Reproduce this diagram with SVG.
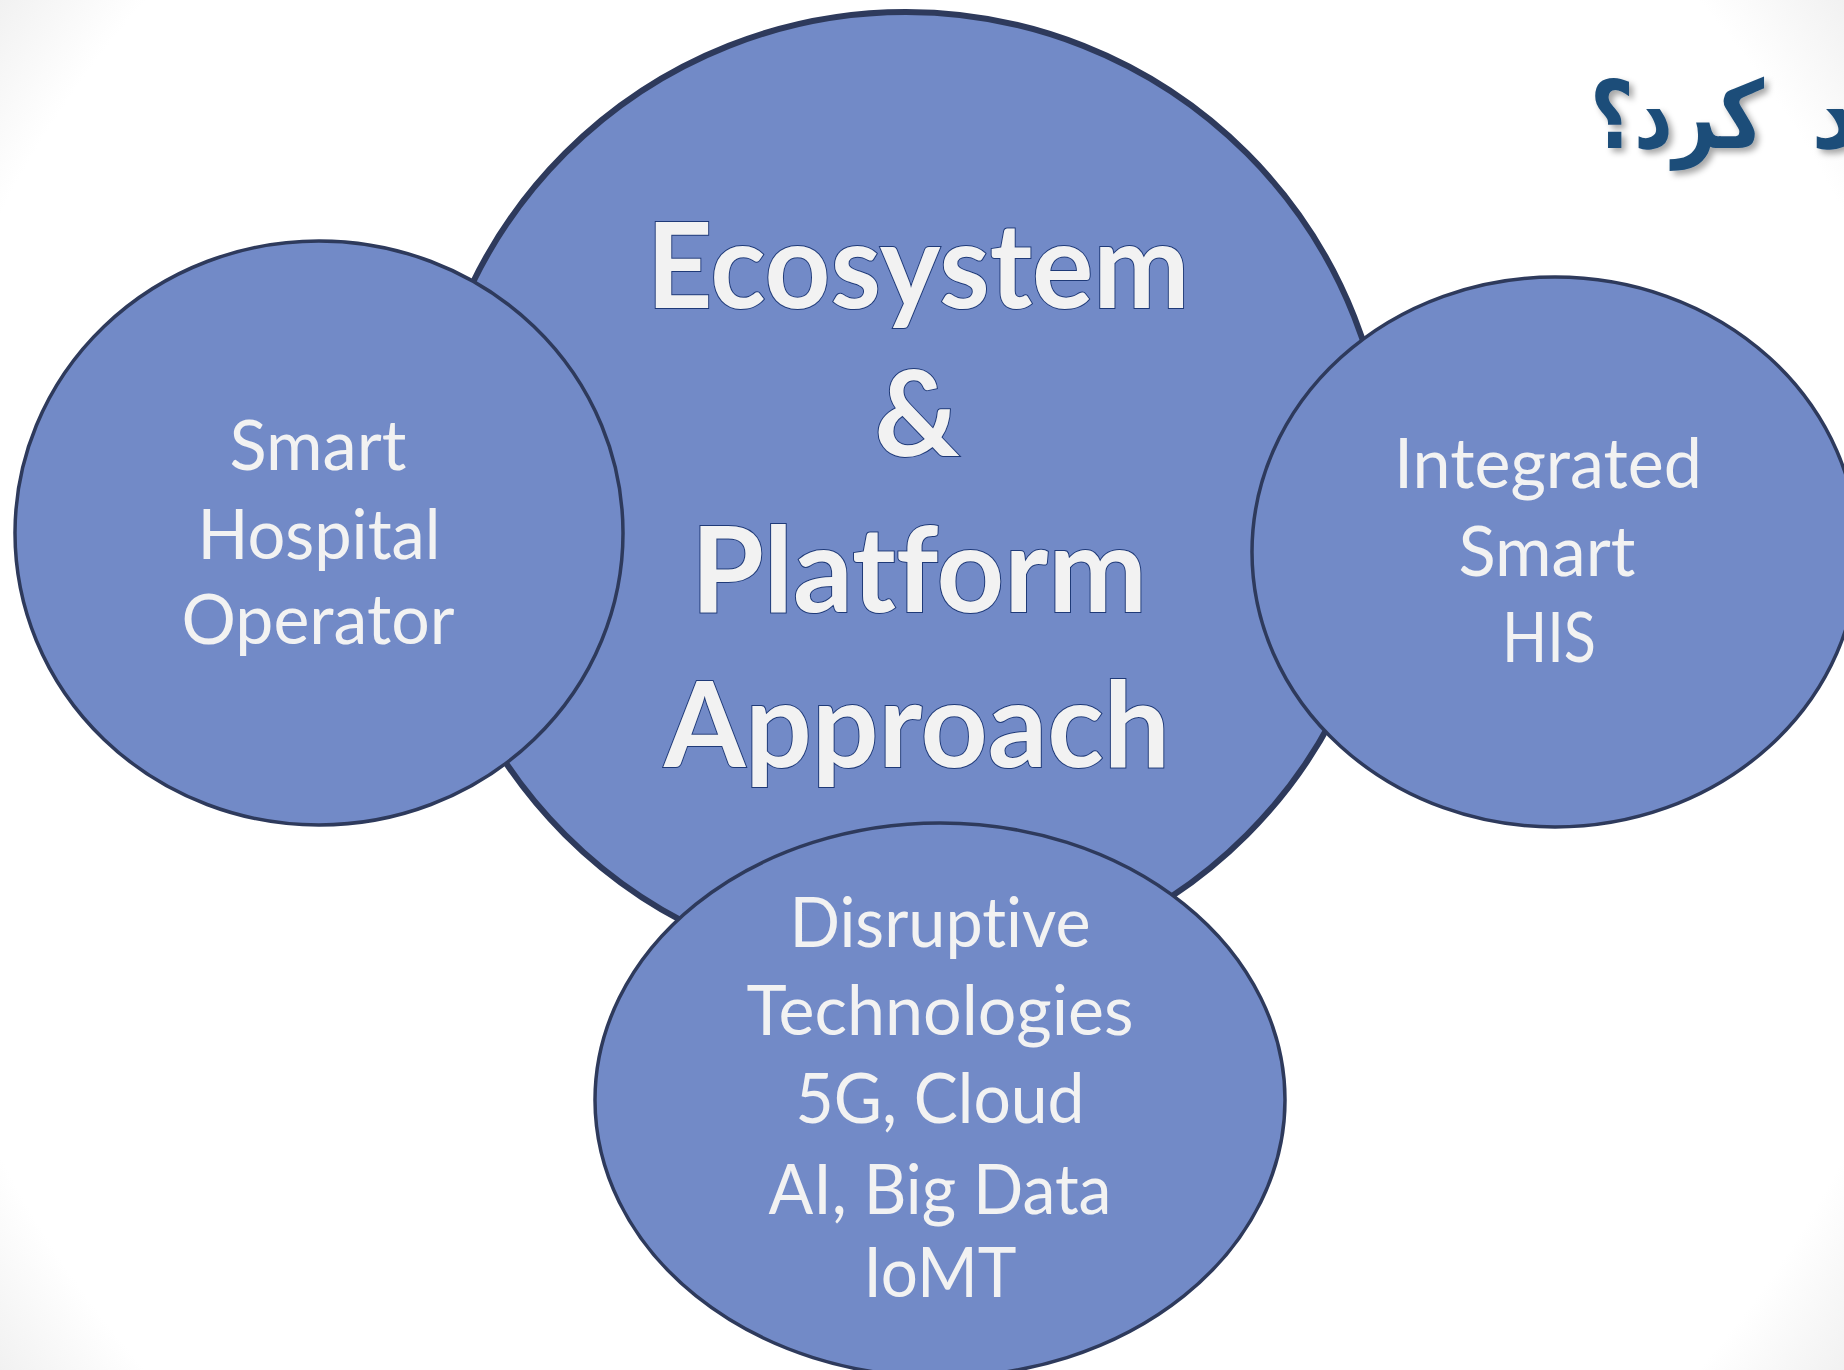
<svg xmlns="http://www.w3.org/2000/svg" width="1844" height="1370" viewBox="0 0 1844 1370">
<defs>
  <radialGradient id="bg" gradientUnits="userSpaceOnUse" cx="922" cy="685" r="1150">
    <stop offset="0.9" stop-color="#ffffff"/>
    <stop offset="1" stop-color="#f1f1f1"/>
  </radialGradient>
  <filter id="shadow" x="-20%" y="-20%" width="140%" height="140%">
    <feDropShadow dx="4" dy="4" stdDeviation="3" flood-color="#000000" flood-opacity="0.35"/>
  </filter>
</defs>
<style>
  .bubble { fill: #728AC7; stroke: #2E3A5C; stroke-width: 3.5; }
  .big { fill: #728AC7; stroke: #2E3A5C; stroke-width: 6; }
  .lbl { font-family: Lato, "Open Sans", "Liberation Sans", sans-serif; font-size: 70px; fill: #F2F2F2; text-anchor: middle; font-variant-ligatures: none; }
  .head { font-family: Lato, "Open Sans", "Liberation Sans", sans-serif; font-weight: bold; font-size: 118px; fill: #F2F2F2; stroke: #1F3A78; stroke-width: 2; text-anchor: middle; paint-order: stroke; font-variant-ligatures: none; }
  .title { font-family: "DejaVu Sans", "Noto Sans", sans-serif; font-weight: bold; font-size: 94px; fill: #1F4E79; }
</style>
<rect x="0" y="0" width="1844" height="1370" fill="url(#bg)"/>

<g id="title" filter="url(#shadow)">
  <text class="title" x="1590" y="148" textLength="174" lengthAdjust="spacingAndGlyphs">کرد؟</text>
  <text class="title" x="1811" y="148">د</text>
</g>

<g id="connectors"/>

<g id="node-ecosystem">
  <circle class="big" cx="906" cy="494" r="482"/>
  <text class="head" x="918" y="308" textLength="543" lengthAdjust="spacingAndGlyphs">Ecosystem</text>
  <text class="head" x="917" y="456">&amp;</text>
  <text class="head" x="919" y="612" textLength="456" lengthAdjust="spacingAndGlyphs">Platform</text>
  <text class="head" x="917" y="767" textLength="506" lengthAdjust="spacingAndGlyphs">Approach</text>
</g>

<g id="node-smart-hospital">
  <ellipse class="bubble" cx="319" cy="533" rx="304" ry="292"/>
  <text class="lbl" x="318" y="470" textLength="177" lengthAdjust="spacingAndGlyphs">Smart</text>
  <text class="lbl" x="319" y="559" textLength="243" lengthAdjust="spacingAndGlyphs">Hospital</text>
  <text class="lbl" x="318" y="644" textLength="273" lengthAdjust="spacingAndGlyphs">Operator</text>
</g>

<g id="node-integrated-his">
  <ellipse class="bubble" cx="1555" cy="552" rx="303" ry="275"/>
  <text class="lbl" x="1548" y="488" textLength="308" lengthAdjust="spacingAndGlyphs">Integrated</text>
  <text class="lbl" x="1547" y="576" textLength="177" lengthAdjust="spacingAndGlyphs">Smart</text>
  <text class="lbl" x="1549" y="662" textLength="94" lengthAdjust="spacingAndGlyphs">HIS</text>
</g>

<g id="node-disruptive">
  <ellipse class="bubble" cx="940" cy="1100" rx="345" ry="277"/>
  <text class="lbl" x="940" y="947" textLength="301" lengthAdjust="spacingAndGlyphs">Disruptive</text>
  <text class="lbl" x="940" y="1035" textLength="387" lengthAdjust="spacingAndGlyphs">Technologies</text>
  <text class="lbl" x="940" y="1123" textLength="289" lengthAdjust="spacingAndGlyphs">5G, Cloud</text>
  <text class="lbl" x="940" y="1214" textLength="343" lengthAdjust="spacingAndGlyphs">AI, Big Data</text>
  <text class="lbl" x="940" y="1297" textLength="153" lengthAdjust="spacingAndGlyphs">IoMT</text>
</g>
</svg>
